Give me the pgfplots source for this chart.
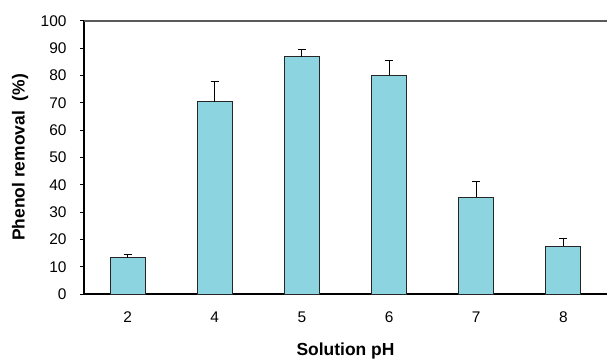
\documentclass[border=0pt]{standalone}
\usepackage{pgfplots}
\pgfplotsset{compat=1.18}
\usepackage{pgfplotstable}
\usepackage{fontspec}
\setmainfont{Liberation Sans}
\definecolor{barfill}{RGB}{140,212,224}
\definecolor{topgray}{RGB}{90,90,90}
\pgfplotstableread{
x y err
0 13.2 1.3
1 70.4 7.3
2 86.9 2.5
3 80.1 5.4
4 35.4 5.7
5 17.5 2.8
}\datatable
\begin{document}
\begin{tikzpicture}
\path[use as bounding box] (0,0) rectangle (608bp,360bp);
\begin{axis}[
  at={(84bp,66bp)}, anchor=south west,
  scale only axis,
  width=523bp, height=273bp,
  xmin=-0.5, xmax=5.5,
  ymin=0, ymax=100,
  axis x line*=bottom, axis y line*=left,
  axis line style={black, line width=1.2bp, -},
  xtick=data,
  xticklabels={2,4,5,6,7,8},
  x tick style={draw=none},
  ytick={0,10,...,100},
  y tick style={black, line width=1bp},
  tick align=outside,
  major tick length=4bp,
  /pgf/number format/assume math mode=true,
  xticklabel style={font=\fontsize{15.5}{17}\selectfont, yshift=-10bp},
  yticklabel style={font=\fontsize{15.5}{17}\selectfont, xshift=-10bp},
  xlabel={\textbf{Solution pH}},
  ylabel={\textbf{Phenol removal\ \ (\%)}},
  label style={font=\fontsize{17.5}{19}\selectfont},
  xlabel style={at={(rel axis cs:0.5,0)}, anchor=center, yshift=-57bp},
  ylabel style={at={(rel axis cs:0,0.5)}, anchor=center, yshift=64bp},
  clip=false,
]
\draw[topgray, line width=1.3bp] (rel axis cs:0,1) -- (rel axis cs:1,1);
\addplot[ybar, bar width=35bp, fill=barfill, draw=black!85, line width=1bp,
  error bars/.cd, y dir=plus, y explicit,
  error mark=|,
  error bar style={black, line width=1bp},
  error mark options={black, line width=1bp, mark size=4bp, draw=black}]
  table[x=x, y=y, y error=err] {\datatable};
\end{axis}
\end{tikzpicture}
\end{document}
